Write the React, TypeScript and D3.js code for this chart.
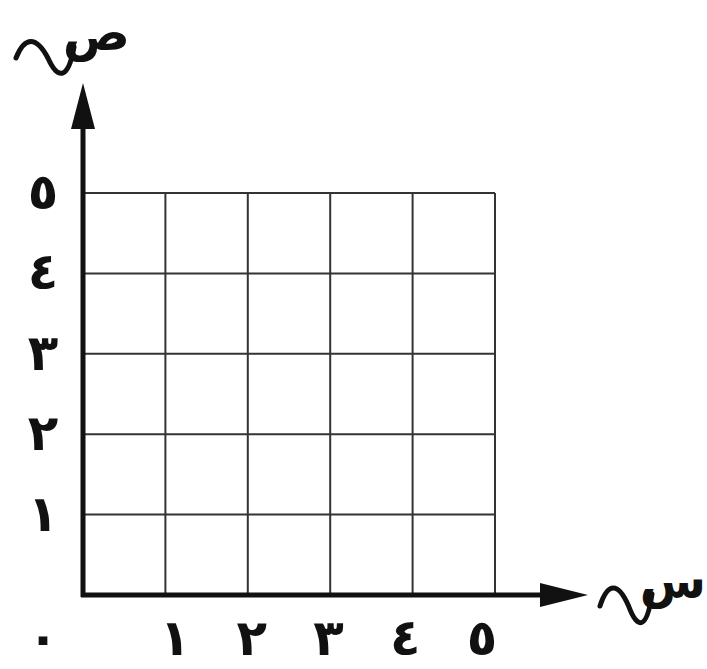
import React from 'react';
import * as d3 from 'd3';

// values on both axes, 0..5
const ticks = [1, 2, 3, 4, 5];
const tickLabels = ['١', '٢', '٣', '٤', '٥'];
const originLabel = '٠';
const xAxisLabel = 'س';
const yAxisLabel = 'ص';

const W = 707;
const H = 669;

const App = () => {
  const x = d3.scaleLinear().domain([0, 5]).range([83, 495]);
  const y = d3.scaleLinear().domain([0, 5]).range([595, 193]);
  // labels on the x axis sit a little off the grid lines in the picture
  const xLab = d3.scaleLinear().domain([1, 5]).range([175, 482]);

  const font = "'DejaVu Sans', sans-serif";
  const yTip = y(5) - 110;
  const xTip = x(5) + 93;

  const tilde = (x0: number, y0: number, w: number, h: number) => {
    const p = d3.path();
    p.moveTo(x0, y0);
    p.bezierCurveTo(x0 + w * 0.15, y0 - h, x0 + w * 0.35, y0 - h, x0 + w * 0.55, y0);
    p.bezierCurveTo(x0 + w * 0.72, y0 + h, x0 + w * 0.9, y0 + h, x0 + w, y0 - h * 0.5);
    return p.toString();
  };

  return (
    <svg width={W} height={H} style={{ position: 'absolute', left: 0, top: 0, background: '#fff' }}>
      {/* grid */}
      <g stroke="#333" strokeWidth={2}>
        {ticks.map((t) => (
          <line key={'v' + t} x1={x(t)} x2={x(t)} y1={y(0)} y2={y(5)} />
        ))}
        {ticks.map((t) => (
          <line key={'h' + t} x1={x(0)} x2={x(5)} y1={y(t)} y2={y(t)} />
        ))}
      </g>
      {/* axes */}
      <g stroke="#111" strokeWidth={5}>
        <line x1={x(0) - 2} x2={xTip - 45} y1={y(0)} y2={y(0)} />
        <line x1={x(0)} x2={x(0)} y1={y(0) + 2} y2={yTip + 42} />
      </g>
      <path d={`M${x(0)},${yTip} L${x(0) - 12},${yTip + 46} L${x(0) + 12},${yTip + 46} Z`} fill="#111" />
      <path d={`M${xTip},${y(0)} L${xTip - 48},${y(0) - 12} L${xTip - 48},${y(0) + 12} Z`} fill="#111" />
      {/* tick labels */}
      <g fontFamily={font} fontWeight="bold" fontSize={50} fill="#111" textAnchor="middle">
        {ticks.map((t, i) => (
          <text key={'x' + t} x={xLab(t)} y={y(0) + 60}>{tickLabels[i]}</text>
        ))}
        {ticks.map((t, i) => (
          <text key={'y' + t} x={43} y={y(t) + 16}>{tickLabels[i]}</text>
        ))}
        <text x={43} y={y(0) + 60}>{originLabel}</text>
      </g>
      {/* axis names */}
      <path d={tilde(16, 58, 58, 22)} fill="none" stroke="#111" strokeWidth={5} strokeLinecap="round" />
      <text x={130} y={50} textAnchor="end" fontFamily={font} fontWeight="bold" fontSize={50} fill="#111">{yAxisLabel}</text>
      <path d={tilde(600, 606, 52, 24)} fill="none" stroke="#111" strokeWidth={5} strokeLinecap="round" />
      <text x={706} y={598} textAnchor="end" fontFamily={font} fontWeight="bold" fontSize={48} fill="#111">{xAxisLabel}</text>
    </svg>
  );
};

export default App;
